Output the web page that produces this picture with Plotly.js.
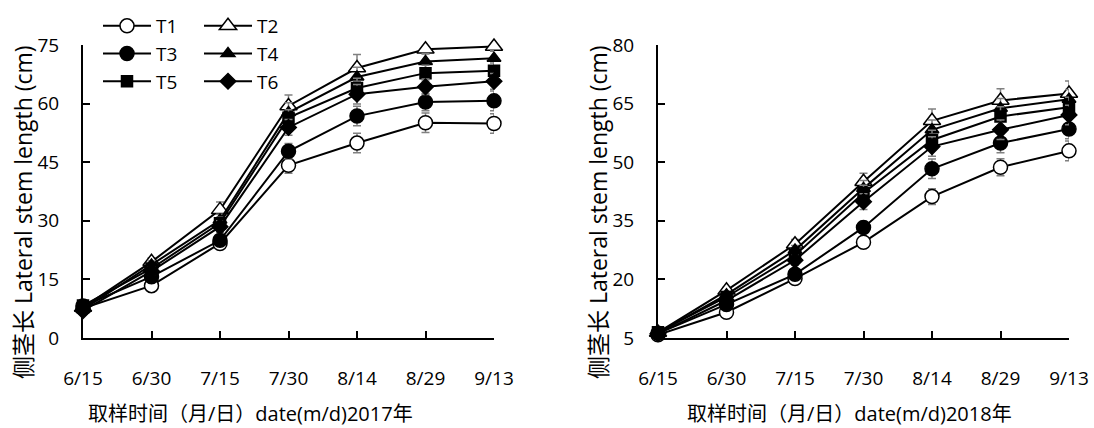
<!DOCTYPE html>
<html>
<head>
<meta charset="utf-8">
<script src="https://cdn.plot.ly/plotly-3.0.1.min.js"></script>
<style>html,body{margin:0;padding:0;background:#fff;}</style>
</head>
<body>
<div id="chart" style="width:1094px;height:428px;"></div>
<script>
// ---- data ----
const dates = ["6/15", "6/30", "7/15", "7/30", "8/14", "8/29", "9/13"];
const seriesNames = ["T1", "T2", "T3", "T4", "T5", "T6"];

// 2017 lateral stem length (cm)
const y2017_T1 = [7.6, 13.4, 24.2, 44.2, 49.9, 55.1, 54.9];
const y2017_T2 = [7.8, 19.5, 32.8, 59.4, 69.1, 73.9, 74.6];
const y2017_T3 = [8.2, 15.7, 25.0, 47.8, 56.8, 60.4, 60.7];
const y2017_T4 = [7.3, 18.7, 30.2, 57.7, 66.8, 70.8, 71.6];
const y2017_T5 = [8.3, 17.8, 29.4, 56.4, 64.0, 67.8, 68.4];
const y2017_T6 = [7.0, 17.1, 28.5, 53.9, 62.4, 64.3, 65.7];

const e2017_T1 = [0.5, 0.8, 1.0, 2.0, 2.5, 2.5, 2.5];
const e2017_T2 = [0.5, 1.0, 2.0, 2.8, 3.5, 1.2, 1.2];
const e2017_T3 = [0.5, 0.8, 1.2, 2.0, 2.5, 2.2, 2.5];
const e2017_T4 = [0.5, 1.0, 1.5, 2.5, 2.5, 2.0, 2.0];
const e2017_T5 = [0.5, 1.0, 1.5, 2.0, 2.5, 2.0, 2.0];
const e2017_T6 = [0.5, 1.0, 1.5, 2.0, 2.5, 2.0, 2.0];

// 2018 lateral stem length (cm)
const y2018_T1 = [5.8, 11.6, 20.2, 29.5, 41.2, 48.7, 52.9];
const y2018_T2 = [6.4, 17.2, 29.0, 45.0, 60.6, 65.8, 67.6];
const y2018_T3 = [6.2, 13.6, 21.3, 33.3, 48.3, 54.9, 58.5];
const y2018_T4 = [6.3, 16.1, 27.5, 43.3, 58.3, 63.8, 66.1];
const y2018_T5 = [6.5, 15.5, 26.2, 42.1, 55.7, 61.7, 64.1];
const y2018_T6 = [6.1, 14.6, 24.9, 39.9, 54.0, 58.3, 62.1];

const e2018_T1 = [0.4, 0.8, 1.0, 1.2, 2.0, 2.2, 2.5];
const e2018_T2 = [0.4, 0.8, 1.2, 2.2, 3.0, 3.0, 3.2];
const e2018_T3 = [0.4, 0.8, 1.0, 1.5, 2.5, 2.5, 2.5];
const e2018_T4 = [0.4, 0.8, 1.2, 2.0, 2.5, 2.5, 2.5];
const e2018_T5 = [0.4, 0.8, 1.2, 2.0, 2.5, 2.5, 2.5];
const e2018_T6 = [0.4, 0.8, 1.2, 2.0, 2.5, 2.5, 2.5];

const xTitle2017 = "取样时间（月/日）date(m/d)2017年";
const xTitle2018 = "取样时间（月/日）date(m/d)2018年";
const yTitle = "侧茎长 Lateral stem length (cm)";

// ---- styling ----
const FONT = "'Open Sans', 'Noto Sans CJK SC', sans-serif";
const markerStyles = {
  T1: {symbol: "circle", color: "#ffffff", size: 14},
  T2: {symbol: "triangle-up", color: "#ffffff", size: 15},
  T3: {symbol: "circle", color: "#000000", size: 14},
  T4: {symbol: "triangle-up", color: "#000000", size: 12},
  T5: {symbol: "square", color: "#000000", size: 11},
  T6: {symbol: "diamond", color: "#000000", size: 12}
};
const legendOf = {T1: "legend", T3: "legend", T5: "legend", T2: "legend2", T4: "legend2", T6: "legend2"};

const data2017 = {T1: y2017_T1, T2: y2017_T2, T3: y2017_T3, T4: y2017_T4, T5: y2017_T5, T6: y2017_T6};
const err2017 = {T1: e2017_T1, T2: e2017_T2, T3: e2017_T3, T4: e2017_T4, T5: e2017_T5, T6: e2017_T6};
const data2018 = {T1: y2018_T1, T2: y2018_T2, T3: y2018_T3, T4: y2018_T4, T5: y2018_T5, T6: y2018_T6};
const err2018 = {T1: e2018_T1, T2: e2018_T2, T3: e2018_T3, T4: e2018_T4, T5: e2018_T5, T6: e2018_T6};

const xIdx = dates.map((d, i) => i);
const traces = [];
function addTraces(vals, errs, xa, ya, showLeg) {
  seriesNames.forEach(name => {
    const m = markerStyles[name];
    traces.push({
      type: "scatter", mode: "lines+markers", name: name,
      x: xIdx, y: vals[name], xaxis: xa, yaxis: ya,
      showlegend: showLeg, legend: legendOf[name],
      line: {color: "#000000", width: 2},
      marker: {symbol: m.symbol, size: m.size, color: m.color, line: {color: "#000000", width: 1.5}},
      error_y: {type: "data", array: errs[name], visible: true, color: "#808080", thickness: 1.5, width: 4},
      cliponaxis: false
    });
  });
}
addTraces(data2017, err2017, "x", "y", true);
addTraces(data2018, err2018, "x2", "y2", false);

const W = 1094, H = 428;
const axisCommon = {
  showgrid: false, zeroline: false, showline: true, linecolor: "#000000", linewidth: 2,
  ticks: "inside", ticklen: 7, tickwidth: 2, tickcolor: "#000000",
  tickfont: {family: FONT, size: 19, color: "#000000"}
};
const plotTop = 45, plotBottom = 338;
const ph = plotBottom - plotTop;
function py(pix) { return (plotBottom - pix) / ph; }

const layout = {
  width: W, height: H,
  margin: {l: 0, r: 0, t: plotTop, b: H - plotBottom},
  paper_bgcolor: "#ffffff", plot_bgcolor: "#ffffff",
  font: {family: FONT, color: "#000000"},
  xaxis: Object.assign({}, axisCommon, {domain: [83 / W, 494 / W], range: [0, 6], tickvals: xIdx, ticktext: dates, anchor: "y", ticklabelstandoff: 22}),
  yaxis: Object.assign({}, axisCommon, {domain: [0, 1], range: [0, 75], dtick: 15, tick0: 0, anchor: "x", ticklabelstandoff: 18}),
  xaxis2: Object.assign({}, axisCommon, {domain: [658 / W, 1069 / W], range: [0, 6], tickvals: xIdx, ticktext: dates, anchor: "y2", ticklabelstandoff: 22}),
  yaxis2: Object.assign({}, axisCommon, {domain: [0, 1], range: [5, 80], dtick: 15, tick0: 5, anchor: "x2", ticklabelstandoff: 18}),
  legend: {x: 98 / W, y: 1 + (plotTop - 7) / ph, xanchor: "left", yanchor: "top", orientation: "v",
    font: {family: FONT, size: 19, color: "#000000"}, itemwidth: 48, bgcolor: "rgba(0,0,0,0)", tracegroupgap: 0},
  legend2: {x: 199 / W, y: 1 + (plotTop - 7) / ph, xanchor: "left", yanchor: "top", orientation: "v",
    font: {family: FONT, size: 19, color: "#000000"}, itemwidth: 48, bgcolor: "rgba(0,0,0,0)", tracegroupgap: 0},
  annotations: [
    {text: xTitle2017, xref: "paper", yref: "paper", x: 250 / W, y: py(413), xanchor: "center", yanchor: "middle", showarrow: false, font: {family: FONT, size: 20, color: "#000000"}},
    {text: xTitle2018, xref: "paper", yref: "paper", x: 849 / W, y: py(413), xanchor: "center", yanchor: "middle", showarrow: false, font: {family: FONT, size: 20, color: "#000000"}},
    {text: yTitle, xref: "paper", yref: "paper", x: 23 / W, y: py(212), xanchor: "center", yanchor: "middle", textangle: -90, showarrow: false, font: {family: FONT, size: 23, color: "#000000"}},
    {text: yTitle, xref: "paper", yref: "paper", x: 598 / W, y: py(212), xanchor: "center", yanchor: "middle", textangle: -90, showarrow: false, font: {family: FONT, size: 23, color: "#000000"}}
  ],
  showlegend: true
};

Plotly.newPlot("chart", traces, layout, {displayModeBar: false, staticPlot: true});
</script>
</body>
</html>
